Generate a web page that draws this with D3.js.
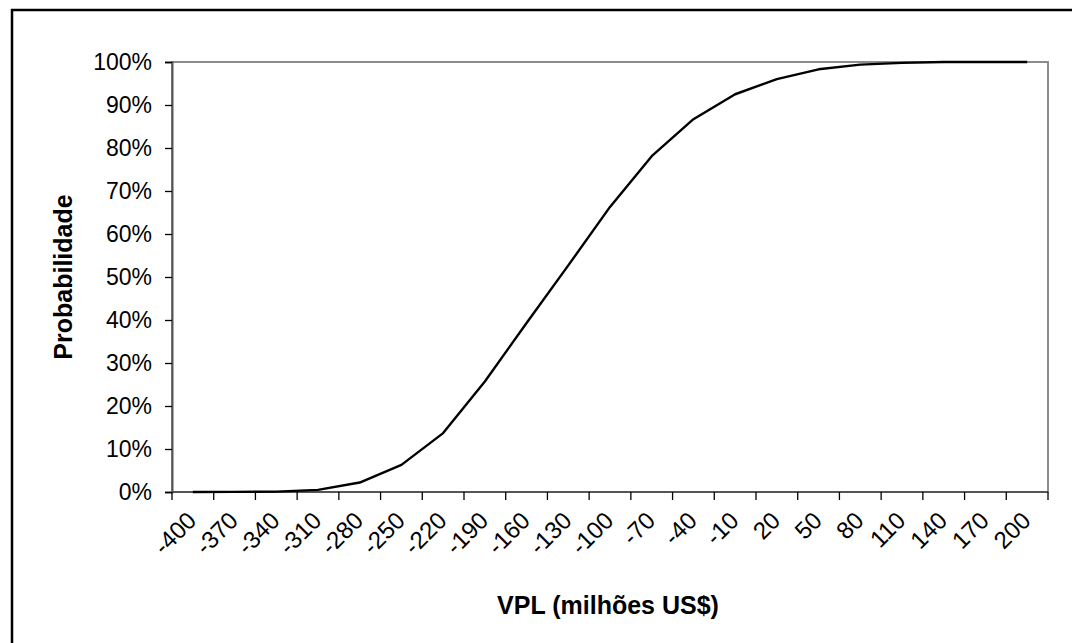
<!DOCTYPE html>
<html>
<head>
<meta charset="utf-8">
<script src="https://cdn.jsdelivr.net/npm/d3@7"></script>
<style>
  body { margin: 0; background: #fff; }
  svg { display: block; font-family: "Liberation Sans", Arial, sans-serif; }
</style>
</head>
<body>
<div id="chart"></div>
<script>
// VPL categories (milhões US$)
var categories = [-400, -370, -340, -310, -280, -250, -220, -190, -160, -130, -100,
                  -70, -40, -10, 20, 50, 80, 110, 140, 170, 200];
// cumulative probability (%)
var probabilities = [0, 0.02, 0.08, 0.5, 2.2, 6.3, 13.7, 25.7, 39.3, 52.7, 66.3,
                     78.1, 86.7, 92.5, 96.0, 98.3, 99.4, 99.8, 100, 100, 100];
var yTicks = [0, 10, 20, 30, 40, 50, 60, 70, 80, 90, 100];

var width = 1072,
    height = 643,
    margin = {top: 62, right: 24, bottom: 151, left: 172},
    plotW = width - margin.left - margin.right,
    plotH = height - margin.top - margin.bottom;

var svg = d3.select("#chart")
  .append("svg")
  .attr("width", width)
  .attr("height", height);

// outer frame, runs past right and bottom edge like the original
svg.append("rect")
  .attr("x", 12).attr("y", 10)
  .attr("width", 1080).attr("height", 660)
  .attr("fill", "#fff")
  .attr("stroke", "#000")
  .attr("stroke-width", 2.5);

var x = d3.scaleBand()
  .domain(categories)
  .range([0, plotW]);

var y = d3.scaleLinear()
  .domain([0, 100])
  .range([plotH, 0]);

var g = svg.append("g")
  .attr("transform", "translate(" + margin.left + "," + margin.top + ")");

// plot area border
g.append("rect")
  .attr("width", plotW).attr("height", plotH)
  .attr("fill", "none")
  .attr("stroke", "#8c8c8c")
  .attr("stroke-width", 2);

// y axis
var yAxis = g.append("g")
  .call(d3.axisLeft(y).tickValues(yTicks).tickSize(7).tickPadding(13)
    .tickFormat(function (d) { return d + "%"; }));
yAxis.select(".domain").attr("stroke", "#555").attr("stroke-width", 2);
yAxis.selectAll(".tick line").attr("stroke", "#000").attr("stroke-width", 1.3);
yAxis.selectAll(".tick text")
  .attr("font-size", 23)
  .attr("fill", "#000");

// x axis: ticks between categories, labels centred
var xAxisG = g.append("g")
  .attr("transform", "translate(0," + plotH + ")");
xAxisG.append("line")
  .attr("x1", 0).attr("x2", plotW)
  .attr("stroke", "#555").attr("stroke-width", 2);
var edges = categories.map(function (c) { return x(c); }).concat([plotW]);
xAxisG.selectAll(".xt")
  .data(edges)
  .enter()
  .append("line")
  .attr("class", "xt")
  .attr("x1", function (d) { return d; })
  .attr("x2", function (d) { return d; })
  .attr("y1", 0).attr("y2", 8)
  .attr("stroke", "#000").attr("stroke-width", 1.3);
xAxisG.selectAll(".xl")
  .data(categories)
  .enter()
  .append("text")
  .attr("class", "xl")
  .attr("transform", function (d) {
    return "translate(" + (x(d) + x.bandwidth() / 2 - 1) + ",24) rotate(-45)";
  })
  .attr("text-anchor", "end")
  .attr("dy", "0.35em")
  .attr("font-size", 24)
  .text(function (d) { return d; });

// cumulative curve
var line = d3.line()
  .x(function (d, i) { return x(categories[i]) + x.bandwidth() / 2; })
  .y(function (d) { return y(d); });

g.append("path")
  .datum(probabilities)
  .attr("d", line)
  .attr("fill", "none")
  .attr("stroke", "#000")
  .attr("stroke-width", 2.4)
  .attr("stroke-linejoin", "round");

// axis titles
svg.append("text")
  .attr("x", 608).attr("y", 614)
  .attr("text-anchor", "middle")
  .attr("font-size", 25)
  .attr("font-weight", "bold")
  .text("VPL (milhões US$)");

svg.append("text")
  .attr("transform", "translate(72," + (margin.top + plotH / 2) + ") rotate(-90)")
  .attr("text-anchor", "middle")
  .attr("font-size", 25)
  .attr("font-weight", "bold")
  .text("Probabilidade");
</script>
</body>
</html>
